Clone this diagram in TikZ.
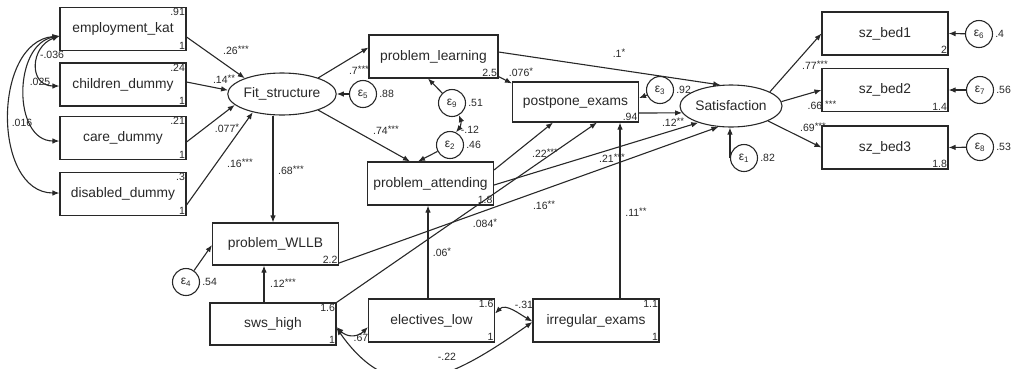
\documentclass[tikz,border=0pt]{standalone}
\usepackage{fontspec}
\setmainfont{Liberation Sans}
\usetikzlibrary{arrows.meta,shapes.geometric,positioning}
\definecolor{semline}{RGB}{40,40,40}
\newcommand{\sig}[1]{\raisebox{2pt}{\fontsize{9.5}{10}\selectfont#1}}
\tikzset{
  obs/.style={draw=semline, line width=1.1pt, minimum width=126pt, minimum height=43pt,
              inner sep=0pt, font=\fontsize{13.8}{16}\selectfont, text=semline},
  lat/.style={ellipse, draw=semline, line width=1.1pt, minimum width=102pt, minimum height=42pt,
              inner sep=0pt, font=\fontsize{13.8}{16}\selectfont, text=semline},
  err/.style={circle, draw=semline, line width=1.1pt, minimum size=27pt, inner sep=0pt,
              font=\fontsize{12}{14}\selectfont, text=semline},
  num/.style={font=\fontsize{10.5}{12}\selectfont, inner sep=1.5pt, text=semline},
  coef/.style={font=\fontsize{10.5}{12}\selectfont, inner sep=0pt, text=semline},
  pth/.style={-{Latex[length=7pt,width=5.5pt]}, semline, line width=1.1pt},
  cov/.style={{Latex[length=7pt,width=5.5pt]}-{Latex[length=7pt,width=5.5pt]}, semline, line width=1.1pt},
}

\begin{document}
\begin{tikzpicture}[x=1pt,y=-1pt]
  \useasboundingbox (0,0) rectangle (1020,368);
  % exogenous boxes, left
  \node[obs, label={[num,anchor=north east]north east:.91}, label={[num,anchor=south east]south east:1}] (emp) at (123,29) {employment\_kat};
  \node[obs, label={[num,anchor=north east]north east:.24}, label={[num,anchor=south east]south east:1}] (chi) at (123,84.5) {children\_dummy};
  \node[obs, label={[num,anchor=north east]north east:.21}, label={[num,anchor=south east]south east:1}] (care) at (123,138) {care\_dummy};
  \node[obs, label={[num,anchor=north east]north east:.3}, label={[num,anchor=south east]south east:1}] (dis) at (123,194) {disabled\_dummy};
  % latent variables
  \node[lat] (fit) at (282,94) {Fit\_structure};
  \node[lat] (sat) at (731,106) {Satisfaction};
  % endogenous boxes
  \node[obs, minimum width=129pt, label={[num,anchor=south east]south east:2.5}] (learn) at (433.5,56.5) {problem\_learning};
  \node[obs, label={[num,anchor=south east]south east:1.8}] (attend) at (430.5,183.5) {problem\_attending};
  \node[obs, minimum height=40pt, label={[num,anchor=south east]south east:.94}] (post) at (575.5,102) {postpone\_exams};
  \node[obs, minimum height=42pt, label={[num,anchor=south east]south east:2.2}] (wllb) at (275.5,244) {problem\_WLLB};
  \node[obs, label={[num,anchor=south east]south east:2}] (bed1) at (885,33.5) {sz\_bed1};
  \node[obs, label={[num,anchor=south east]south east:1.4}] (bed2) at (885,90) {sz\_bed2};
  \node[obs, label={[num,anchor=south east]south east:1.8}] (bed3) at (885,147.5) {sz\_bed3};
  % exogenous boxes, bottom
  \node[obs, minimum height=42pt, label={[num,anchor=north east]north east:1.6}, label={[num,anchor=south east]south east:1}] (sws) at (273,324) {sws\_high};
  \node[obs, label={[num,anchor=north east]north east:1.6}, label={[num,anchor=south east]south east:1}] (elec) at (431.5,320.5) {electives\_low};
  \node[obs, label={[num,anchor=north east]north east:1.1}, label={[num,anchor=south east]south east:1}] (irr) at (596,320.5) {irregular\_exams};
  % error terms
  \node[err, label={[coef,inner sep=2pt]east:.88}] (e5) at (363,94) {ε\textsubscript{5}};
  \node[err, label={[coef,inner sep=2pt]east:.51}] (e9) at (452,103) {ε\textsubscript{9}};
  \node[err, label={[coef,inner sep=2pt]east:.46}] (e2) at (450,145) {ε\textsubscript{2}};
  \node[err, label={[coef,inner sep=2pt]east:.92}] (e3) at (660,90) {ε\textsubscript{3}};
  \node[err, label={[coef,inner sep=2pt]east:.82}] (e1) at (744,158) {ε\textsubscript{1}};
  \node[err, label={[coef,inner sep=2pt]east:.4}] (e6) at (979,34) {ε\textsubscript{6}};
  \node[err, label={[coef,inner sep=2pt]east:.56}] (e7) at (980,90) {ε\textsubscript{7}};
  \node[err, label={[coef,inner sep=2pt]east:.53}] (e8) at (980,147) {ε\textsubscript{8}};
  \node[err, label={[coef,inner sep=2pt]east:.54}] (e4) at (186,282) {ε\textsubscript{4}};

  % paths into Fit_structure
  \draw[pth] ([yshift=-8pt]emp.east) -- (fit.157);
  \draw[pth] ([yshift=2.5pt]chi.east) -- (fit.176);
  \draw[pth] ([yshift=-4pt]care.east) -- (fit.193);
  \draw[pth] ([yshift=-11pt]dis.east) -- (fit.212);
  \draw[pth] (e5) -- (fit.east);
  % paths out of Fit_structure
  \draw[pth] (fit.24) -- ([yshift=9pt]learn.west);
  \draw[pth] (fit.-24) -- ([xshift=-20.5pt]attend.north);
  \draw[pth] ([xshift=-9pt]fit.south) -- ([xshift=-2.5pt]wllb.north);
  % mediators
  \draw[pth] ([yshift=4.5pt]learn.east) -- (sat.117);
  \draw[pth] ([yshift=2pt]learn.south east) -- ([yshift=-2pt]post.north west);
  \draw[pth] (e9) -- ([xshift=-5.5pt]learn.south);
  \draw[pth] (e2) -- ([xshift=-12.5pt]attend.north);
  \draw[cov] (e9.-60) to[bend left=30] (e2.65);
  \draw[pth] (e3) -- ([yshift=4pt]post.east);
  \draw[pth] ([yshift=-11pt]post.east) -- (sat.188);
  \draw[pth] ([yshift=-1.5pt]attend.east) -- (sat.207);
  \draw[pth] ([yshift=-19pt]wllb.east) -- (sat.239);
  \draw[pth] ([yshift=13.5pt]attend.east) -- ([xshift=-22.5pt]post.south);
  \draw[pth] (sws.north east) -- ([xshift=21.5pt]post.south);
  \draw[pth] ([xshift=-3.5pt]elec.north) -- ([xshift=-2.5pt]attend.south);
  \draw[pth] ([xshift=24pt]irr.north) -- ([xshift=44.5pt]post.south);
  \draw[pth] ([xshift=-9pt]sws.north) -- ([xshift=-11.5pt]wllb.south);
  \draw[pth] (e4) -- ([yshift=-1pt]wllb.west);
  % measurement of Satisfaction
  \draw[pth] (sat.20) -- (bed1.west);
  \draw[pth] (sat.5) -- (bed2.west);
  \draw[pth] (sat.-22) -- (bed3.west);
  \draw[pth] (e1.west) -- (e1.west |- sat.south);
  \draw[pth] (e6) -- (bed1.east);
  \draw[pth] (e7) -- (bed2.east);
  \draw[pth] (e8) -- (bed3.east);
  % covariances
  \draw[cov] ([yshift=-7pt]emp.west) to[out=200,in=180,looseness=1.6] ([yshift=-1.5pt]chi.west);
  \draw[cov] ([yshift=-7pt]emp.west) to[out=190,in=180,looseness=1.15] ([yshift=-3pt]care.west);
  \draw[cov] ([yshift=-7pt]emp.west) to[out=185,in=180,looseness=1.1] ([yshift=1pt]dis.west);
  \draw[cov] ([yshift=-3pt]sws.east) to[out=-45,in=225,looseness=1.2] ([yshift=-6.5pt]elec.west);
  \draw[cov] ([yshift=-4pt]sws.east) to[out=-55,in=215,looseness=1.3] ([yshift=-1.5pt]irr.west);
  \draw[cov] ([yshift=7pt]elec.east) to[out=45,in=150] ([yshift=-1pt]irr.west);

  % coefficients
  \node[coef] (k036) at (52,55) {-.036};
  \node[coef] (k025) at (40,82) {.025};
  \node[coef] (k016) at (22,123) {.016};
  \node[coef] (k26) at (236,50) {.26\sig{***}};
  \node[coef] (k14) at (224,79) {.14\sig{**}};
  \node[coef] (k077) at (227,128) {.077\sig{*}};
  \node[coef] (k16a) at (240,163) {.16\sig{***}};
  \node[coef] (k7) at (359,70) {.7\sig{***}};
  \node[coef] (k68) at (291,170) {.68\sig{***}};
  \node[coef] (k74) at (386,130) {.74\sig{***}};
  \node[coef] (k12c) at (470,130) {-.12};
  \node[coef] (k1) at (619,53) {.1\sig{*}};
  \node[coef] (k076) at (521,72) {.076\sig{*}};
  \node[coef] (k12b) at (673,122) {.12\sig{**}};
  \node[coef] (k22) at (545,153) {.22\sig{***}};
  \node[coef] (k21) at (612,158) {.21\sig{***}};
  \node[coef] (k16b) at (544,205) {.16\sig{**}};
  \node[coef] (k084) at (485,223) {.084\sig{*}};
  \node[coef] (k06) at (442,252) {.06\sig{*}};
  \node[coef] (k11) at (636,212) {.11\sig{**}};
  \node[coef] (k12a) at (283,283) {.12\sig{***}};
  \node[coef] (k67) at (361,338) {.67};
  \node[coef] (k31) at (524,305) {-.31};
  \node[coef] (k22n) at (447,357) {-.22};
  \node[coef] (k77) at (815,65) {.77\sig{***}};
  \node[coef] (k66) at (822,105) {.66 \sig{***}};
  \node[coef] (k69) at (813,127) {.69\sig{***}};
\end{tikzpicture}
\end{document}
